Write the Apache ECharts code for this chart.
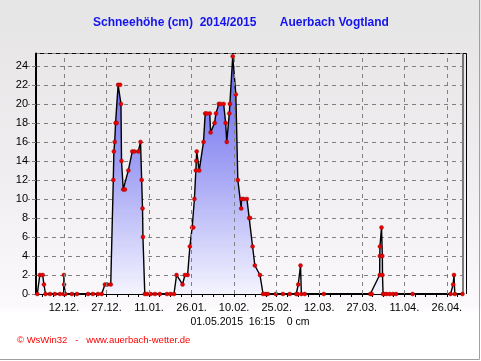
<!DOCTYPE html>
<html><head><meta charset="utf-8">
<script src="https://cdn.jsdelivr.net/npm/echarts@6/dist/echarts.min.js"></script>
<style>html,body{margin:0;padding:0;background:#fff}#c{width:481px;height:361px}</style>
</head><body><div id="c"></div>
<script>
// reading time in days counted from 01.12.2014 00:00 (fractions = time of day)
const readingDays = [
  1.6, 2.5, 3.5, 3.95, 4.5, 6.1, 7.8, 9.6,
  10.9, 11.0, 11.05, 11.5, 13.8, 15.6, 19.5, 21.2, 23.0,
  24.3, 25.45, 26.3, 27.5, 28.4, 28.6, 28.9, 29.2, 29.6, 30.1, 30.8, 31.1, 31.3, 31.9, 32.5, 33.7, 35.1, 35.8, 37.2, 38.0, 38.4, 38.7, 38.85, 39.5,
  40.3, 41.6, 43.1, 44.8, 47.3, 48.6,
  49.8, 50.7, 52.8, 53.65, 54.6, 55.4, 56.2, 56.6, 57.0, 57.5, 57.65, 57.8, 58.7, 60.2, 60.8, 61.3, 62.4, 62.7, 64.1, 64.6, 65.6, 66.2, 67.3, 68.0, 68.4, 69.3, 69.5, 70.5, 71.6, 72.3, 73.5, 73.6, 74.3, 75.5, 76.3, 76.6, 77.5, 78.3, 80.1, 81.2,
  82.1, 82.9, 85.7, 88.2, 90.6, 92.9,
  93.3, 93.6, 94.4, 94.7, 95.9, 102.6, 119.0,
  119.5, 122.3, 122.35, 122.4, 122.95, 123.25, 123.3, 123.5,
  123.8, 124.7, 125.8, 127.0, 128.1, 133.9,
  147.3, 148.2, 148.5, 148.8, 151.5
];
const snowCm = [
  0, 2, 2, 1, 0, 0, 0, 0,
  0, 2, 1, 0, 0, 0, 0, 0, 0,
  0, 1, 1, 1, 12, 15, 16, 18, 18, 22, 22, 20, 14, 11, 11, 13, 15, 15, 15, 16, 12, 9, 6, 0,
  0, 0, 0, 0, 0, 0,
  0, 2, 1, 2, 2, 5, 7, 7, 10, 13, 14, 15, 13, 16, 19, 19, 19, 17, 18, 19, 20, 20, 20, 18, 16, 19, 20, 25, 21, 12, 9, 10, 10, 10, 8, 8, 5, 3, 2, 0,
  0, 0, 0, 0, 0, 0,
  0, 1, 3, 0, 0, 0, 0,
  0, 2, 4, 5, 7, 4, 2, 0,
  0, 0, 0, 0, 0, 0,
  0, 1, 2, 0, 0
];
const tickDays = [11, 26, 41, 56, 71, 86, 101, 116, 131, 146];
const tickLabels = ['12.12.', '27.12.', '11.01.', '26.01.', '10.02.', '25.02.', '12.03.', '27.03.', '11.04.', '26.04.'];
const xStart = 1.15, xEnd = 151.68;   // 02.12.2014 ... 01.05.2015 16:15
const yMax = 25.3;

const titleText = 'Schneehöhe (cm)  2014/2015       Auerbach Vogtland';
const stampText = '01.05.2015  16:15    0 cm';
const footerText = '\u00A9 WsWin32   -   www.auerbach-wetter.de';

// minor tick marks: four per 15-day label step
const minorTicks = [];
for (let d = tickDays[0]; d > xStart; d -= 3.75) minorTicks.unshift(d);
for (let d = tickDays[0] + 3.75; d < xEnd; d += 3.75) minorTicks.push(d);

const data = readingDays.map((d, i) => [d, snowCm[i]]);
const FONT = 'Liberation Sans, Arial, sans-serif';

const chart = echarts.init(document.getElementById('c'), null, {renderer: 'canvas'});
chart.setOption({
  animation: false,
  backgroundColor: {
    type: 'linear', x: 0, y: 0, x2: 0, y2: 1,
    colorStops: [
      {offset: 0, color: '#e6e6e6'},
      {offset: 0.15, color: '#e9e7e8'},
      {offset: 0.5, color: '#f1eef1'},
      {offset: 0.85, color: '#fbf9fb'},
      {offset: 0.865, color: '#ffffff'},
      {offset: 1, color: '#ffffff'}
    ]
  },
  grid: {left: 36, right: 18, top: 53.5, bottom: 67, show: true, borderColor: '#000', borderWidth: 1, backgroundColor: 'transparent'},
  xAxis: {
    type: 'value', min: xStart, max: xEnd,
    axisLine: {lineStyle: {color: '#000', width: 2}},
    axisTick: {show: true, customValues: minorTicks, length: 3, lineStyle: {color: '#000'}},
    axisLabel: {
      customValues: tickDays, color: '#000', fontSize: 11, fontFamily: FONT, margin: 8,
      formatter: v => { const i = tickDays.findIndex(d => Math.abs(d - v) < 0.01); return i >= 0 ? tickLabels[i] : ''; }
    },
    splitLine: {show: false}
  },
  yAxis: {
    type: 'value', min: 0, max: yMax, interval: 2,
    axisLine: {show: true, lineStyle: {color: '#000', width: 2}},
    axisTick: {show: true, length: 8, lineStyle: {color: '#808080', type: 'dashed'}},
    axisLabel: {color: '#000', fontSize: 11, fontFamily: FONT, margin: 8, showMaxLabel: false},
    splitLine: {show: true, lineStyle: {color: '#808080', type: [4, 4], width: 1}}
  },
  series: [
    {
      type: 'line', data: [], z: 1, silent: true,
      markLine: {
        silent: true, symbol: 'none', label: {show: false},
        lineStyle: {color: '#808080', type: [4, 4], width: 1},
        data: tickDays.map(d => ({xAxis: d}))
      }
    },
    {
      type: 'line', data: data, z: 3,
      showSymbol: true, showAllSymbol: true, symbol: 'circle', symbolSize: 4,
      itemStyle: {color: '#ee0000', borderColor: '#800000', borderWidth: 0.4},
      lineStyle: {color: '#000', width: 1.4},
      areaStyle: {
        opacity: 1,
        color: {type: 'linear', x: 0, y: 0, x2: 0, y2: 1, colorStops: [
          {offset: 0, color: '#6262f0'},
          {offset: 0.5, color: '#a6a6f5'},
          {offset: 1, color: '#f4f4ff'}
        ]}
      }
    }
  ],
  graphic: [
    {type: 'text', left: 93, top: 17, style: {text: titleText, fill: '#1414ee', font: 'bold 12px ' + FONT}},
    {type: 'text', x: 250, y: 322, style: {text: stampText, fill: '#000', font: '10.5px ' + FONT, align: 'center', verticalAlign: 'middle'}},
    {type: 'text', x: 17, y: 340, style: {text: footerText, fill: '#ff0000', font: '9.5px ' + FONT, align: 'left', verticalAlign: 'middle'}},
    {type: 'polyline', shape: {points: [[463, 53.5], [466.5, 53.5], [466.5, 294]]}, style: {stroke: '#000', lineWidth: 1, fill: null}},
    {type: 'polyline', shape: {points: [[479.5, 0], [479.5, 359.5], [0, 359.5]]}, style: {stroke: '#a0a0a0', lineWidth: 1, fill: null}}
  ]
});
</script>
</body></html>
